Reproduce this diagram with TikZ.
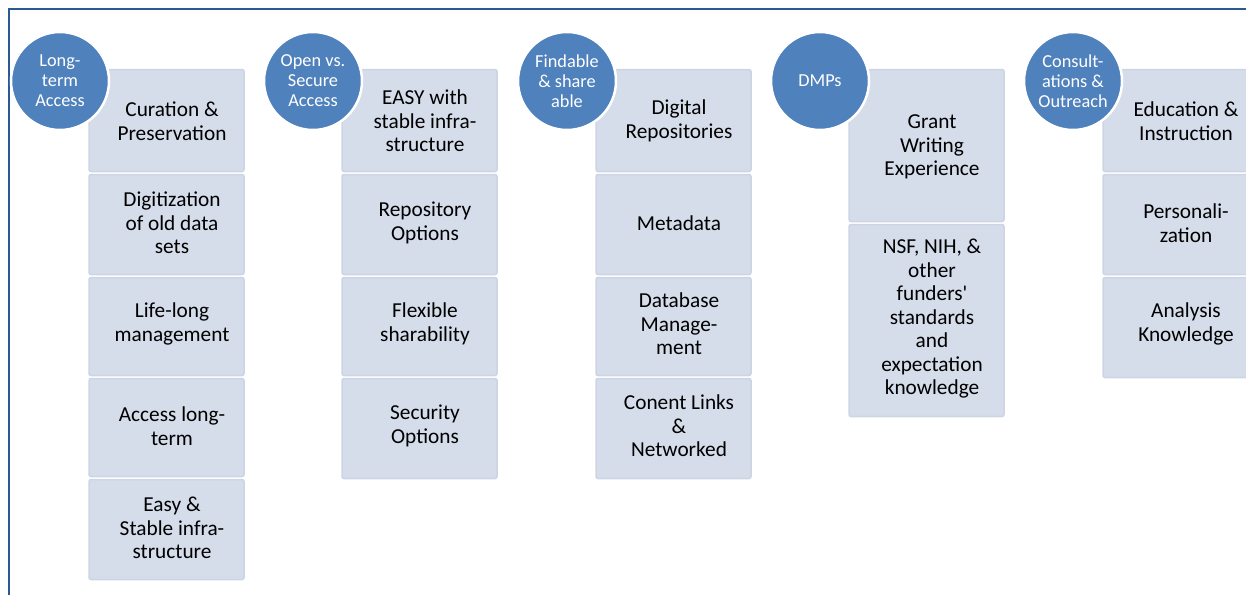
\documentclass[tikz,border=0pt]{standalone}
\usepackage{fontspec}
\setmainfont{Carlito}
\definecolor{framecol}{HTML}{2A5A94}
\definecolor{circfill}{HTML}{4F81BD}
\definecolor{cellfill}{HTML}{D5DCEA}
\definecolor{cellborder}{HTML}{CDD4E4}
\begin{document}
\begin{tikzpicture}[x=1pt,y=-1pt,
  frameline/.style={draw=framecol,line width=2pt},
  cell/.style={draw=cellborder,fill=cellfill,line width=1.5pt,rounded corners=2pt,minimum width=155pt,inner sep=0pt},
  celltext/.style={font=\fontsize{21.3}{23.5}\selectfont,align=center,text=black,inner sep=0pt},
  topic/.style={circle,fill=circfill,draw=white,line width=2.5pt,minimum size=98pt,inner sep=0pt,font=\fontsize{18.3}{20}\selectfont,align=center,text=white}]
\useasboundingbox (0,0) rectangle (1246,595);
\draw[frameline] (9,595) -- (9,9) -- (1246,9);
% column 1
\node[cell,minimum height=102pt] (a1) at (166.5,120.5) {};
\node[cell,minimum height=100pt] (a2) at (166.5,224.5) {};
\node[cell,minimum height=98pt] (a3) at (166.5,326.5) {};
\node[cell,minimum height=98pt] (a4) at (166.5,427.5) {};
\node[cell,minimum height=100pt] (a5) at (166.5,529.5) {};
\node[celltext] at (172,121) {Curation \&\\Preservation};
\node[celltext] at (172,223) {Digitization\\of old data\\sets};
\node[celltext] at (172,324) {Life-long\\management};
\node[celltext] at (172,426) {Access long-\\term};
\node[celltext] at (172,528) {Easy \&\\Stable infra-\\structure};
\node[topic] (ca) at (60,81) {Long-\\term\\Access};
% column 2
\node[cell,minimum height=102pt] (b1) at (419.5,120.5) {};
\node[cell,minimum height=100pt] (b2) at (419.5,224.5) {};
\node[cell,minimum height=98pt] (b3) at (419.5,326.5) {};
\node[cell,minimum height=100pt] (b4) at (419.5,428.5) {};
\node[celltext] at (425,121) {EASY with\\stable infra-\\structure};
\node[celltext] at (425,223) {Repository\\Options};
\node[celltext] at (425,324) {Flexible\\sharability};
\node[celltext] at (425,426) {Security\\Options};
\node[topic] (cb) at (313,81) {Open vs.\\Secure\\Access};
% column 3
\node[cell,minimum height=102pt] (c1) at (673.5,120.5) {};
\node[cell,minimum height=100pt] (c2) at (673.5,224.5) {};
\node[cell,minimum height=98pt] (c3) at (673.5,326.5) {};
\node[cell,minimum height=100pt] (c4) at (673.5,428.5) {};
\node[celltext] at (679,121) {Digital\\Repositories};
\node[celltext] at (679,223) {Metadata};
\node[celltext] at (679,324) {Database\\Manage-\\ment};
\node[celltext] at (679,426) {Conent Links\\\&\\Networked};
\node[topic] (cc) at (567,81) {Findable\\\& share\\able};
% column 4
\node[cell,minimum height=152pt] (d1) at (926.5,145.5) {};
\node[cell,minimum height=192pt] (d2) at (926.5,320.5) {};
\node[celltext] at (932,147) {Grant\\Writing\\Experience};
\node[celltext] at (932,319) {NSF, NIH, \&\\other\\funders\textquotesingle\\standards\\and\\expectation\\knowledge};
\node[topic] (cd) at (820,81) {DMPs};
% column 5
\node[cell,minimum height=102pt] (e1) at (1180.5,120.5) {};
\node[cell,minimum height=100pt] (e2) at (1180.5,224.5) {};
\node[cell,minimum height=100pt] (e3) at (1180.5,327.5) {};
\node[celltext] at (1186,121) {Education \&\\Instruction};
\node[celltext] at (1186,223) {Personali-\\zation};
\node[celltext] at (1186,324) {Analysis\\Knowledge};
\node[topic] (ce) at (1073,81) {Consult-\\ations \&\\Outreach};
\end{tikzpicture}
\end{document}
